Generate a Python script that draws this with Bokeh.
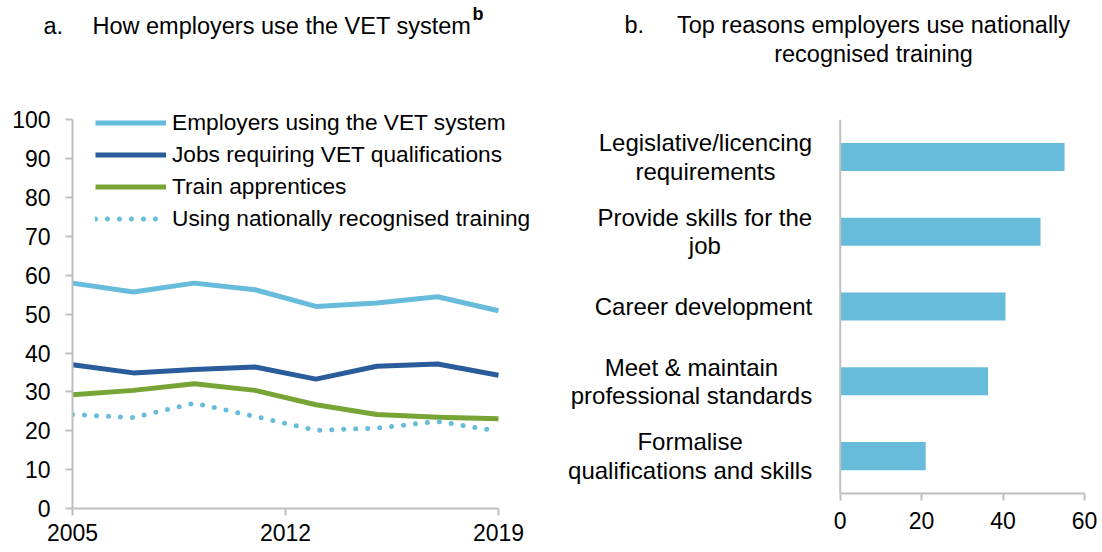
from bokeh.plotting import figure
from bokeh.layouts import row, column
from bokeh.models import (Range1d, Label, Legend, LegendItem, Span,
                          ColumnDataSource, FixedTicker)
from bokeh.embed import file_html
from bokeh.resources import INLINE

# ---------------- data ----------------
years = [2005, 2007, 2009, 2011, 2013, 2015, 2017, 2019]
employers_using_vet = [58.0, 55.7, 58.0, 56.3, 52.0, 52.9, 54.5, 50.9]
jobs_requiring_vet = [37.0, 34.9, 35.8, 36.4, 33.3, 36.6, 37.2, 34.3]
train_apprentices = [29.3, 30.4, 32.1, 30.4, 26.7, 24.2, 23.5, 23.1]
nationally_recognised = [24.2, 23.4, 27.1, 23.7, 20.1, 20.7, 22.4, 19.9]
series_labels = ["Employers using the VET system",
                 "Jobs requiring VET qualifications",
                 "Train apprentices",
                 "Using nationally recognised training"]
x_ticks = [2005, 2012, 2019]
y_ticks = [0, 10, 20, 30, 40, 50, 60, 70, 80, 90, 100]

reasons = ["Legislative/licencing\nrequirements",
           "Provide skills for the\njob",
           "Career development",
           "Meet & maintain\nprofessional standards",
           "Formalise\nqualifications and skills"]
reason_values = [55.1, 49.2, 40.6, 36.3, 21.0]
bar_ticks = [0, 20, 40, 60]

title_a = "How employers use the VET system"
title_b_1 = "Top reasons employers use nationally"
title_b_2 = "recognised training"

# ---------------- styles ----------------
FONT = "Liberation Sans"
LIGHT_BLUE = "#67BCDB"
DARK_BLUE = "#2A5B9A"
GREEN = "#77A535"
AXIS_GREY = "#BFBFBF"
TXT = "#000000"
TITLE_SIZE = "23.5px"
TICK_SIZE = "23px"


def style_axis(ax):
    ax.axis_line_color = AXIS_GREY
    ax.axis_line_width = 2
    ax.major_tick_line_color = AXIS_GREY
    ax.major_tick_line_width = 2
    ax.major_tick_in = 0
    ax.major_tick_out = 7
    ax.minor_tick_line_color = None
    ax.major_label_text_font = FONT
    ax.major_label_text_font_size = TICK_SIZE
    ax.major_label_text_color = TXT


# ---------------- title strip ----------------
TH = 90
tf = figure(width=1100, height=TH, output_backend="svg", toolbar_location=None,
            x_axis_location=None, y_axis_location=None,
            x_range=Range1d(0, 1), y_range=Range1d(0, 1),
            min_border_left=0, min_border_right=0, min_border_top=0, min_border_bottom=0)
tf.outline_line_color = None
tf.grid.visible = False


def title_label(x, y, text, size=TITLE_SIZE, align="left", style="normal"):
    return Label(x=x, y=y, x_units="screen", y_units="screen", text=text,
                 text_font=FONT, text_font_size=size, text_color=TXT,
                 text_align=align, text_baseline="alphabetic", text_font_style=style)


tf.add_layout(title_label(43, TH - 25, "a."))
tf.add_layout(title_label(92, TH - 25, title_a))
tf.add_layout(title_label(472, TH - 13, "b", size="18px", style="bold"))
tf.add_layout(title_label(624, TH - 24, "b."))
tf.add_layout(title_label(873, TH - 24, title_b_1, align="center"))
tf.add_layout(title_label(873, TH - 53.5, title_b_2, align="center"))

# ---------------- panel a ----------------
CH = 460
P1W = 560
P1_LEFT = 72               # left border (value-axis position)
P1_RIGHT_BORDER = 25
P1_X_END_PX = 498          # pixel position of the last year
yr_px = (P1_X_END_PX - P1_LEFT) / (years[-1] - years[0])
x_end = years[-1] + (P1W - P1_RIGHT_BORDER - P1_X_END_PX) / yr_px

p1 = figure(width=P1W, height=CH, output_backend="svg", toolbar_location=None,
            x_range=Range1d(years[0], x_end), y_range=Range1d(0, 105),
            min_border_left=P1_LEFT, min_border_right=P1_RIGHT_BORDER,
            min_border_top=10, min_border_bottom=42)
p1.outline_line_color = None
p1.xgrid.visible = False
p1.ygrid.visible = False
for ax in p1.axis:
    style_axis(ax)
p1.xaxis.ticker = FixedTicker(ticks=x_ticks)
p1.xaxis.bounds = (years[0], years[-1])
p1.yaxis.ticker = FixedTicker(ticks=y_ticks)
p1.yaxis.bounds = (0, 100)
p1.xaxis.major_label_standoff = 8
p1.yaxis.major_label_standoff = 15

r1 = p1.line(years, employers_using_vet, line_color=LIGHT_BLUE, line_width=5, line_join="round")
r2 = p1.line(years, jobs_requiring_vet, line_color=DARK_BLUE, line_width=5, line_join="round")
r3 = p1.line(years, train_apprentices, line_color=GREEN, line_width=5, line_join="round")
r4 = p1.line(years, nationally_recognised, line_color=LIGHT_BLUE, line_width=5,
             line_dash="0 12", line_cap="round", line_join="round")

legend = Legend(items=[LegendItem(label=series_labels[i], renderers=[r])
                       for i, r in enumerate([r1, r2, r3, r4])],
                location=(23, 276), padding=0, margin=0, spacing=5,
                glyph_width=71, glyph_height=27, label_height=27, label_standoff=6,
                label_text_font=FONT, label_text_font_size="22.7px", label_text_color=TXT,
                border_line_color=None, background_fill_alpha=0)
p1.add_layout(legend, "center")

# ---------------- panel b ----------------
ypos = list(range(len(reasons) - 1, -1, -1))
src = ColumnDataSource(dict(y=ypos, value=reason_values, reason=reasons))

P2W = 540
P2_RIGHT_BORDER = 16
ZERO_PX = 279.7            # distance from panel's left edge to the value-0 axis
frame_w = P2W - P2_RIGHT_BORDER
px_per_unit = (frame_w - ZERO_PX) / bar_ticks[-1]
x_start = -ZERO_PX / px_per_unit

p2 = figure(width=P2W, height=CH, output_backend="svg", toolbar_location=None,
            x_range=Range1d(x_start, bar_ticks[-1]),
            y_range=Range1d(-0.5, len(reasons) - 0.5),
            y_axis_location=None,
            min_border_left=0, min_border_right=P2_RIGHT_BORDER,
            min_border_top=29, min_border_bottom=57)
p2.outline_line_color = None
p2.xgrid.visible = False
p2.ygrid.visible = False
for ax in p2.axis:
    style_axis(ax)
p2.xaxis.ticker = FixedTicker(ticks=bar_ticks)
p2.xaxis.bounds = (0, bar_ticks[-1])
p2.xaxis.major_label_standoff = 11

p2.hbar(y="y", right="value", left=0, height=0.375, source=src,
        fill_color=LIGHT_BLUE, line_color=None)
p2.add_layout(Span(location=0, dimension="height", line_color=AXIS_GREY, line_width=2))

for yv, txt in zip(ypos, reasons):
    kw = dict(x=0, y=yv, x_offset=-28, text=txt, text_font=FONT,
              text_font_size="24px", text_color=TXT, text_align="center",
              text_baseline="middle", text_line_height=1.05)
    try:
        lab = Label(anchor="center_right", **kw)
    except Exception:
        kw["text_align"] = "right"
        lab = Label(**kw)
    p2.add_layout(lab)

layout = column(tf, row(column(p1), column(p2)))
open("out.html", "w").write(file_html(layout, INLINE))
